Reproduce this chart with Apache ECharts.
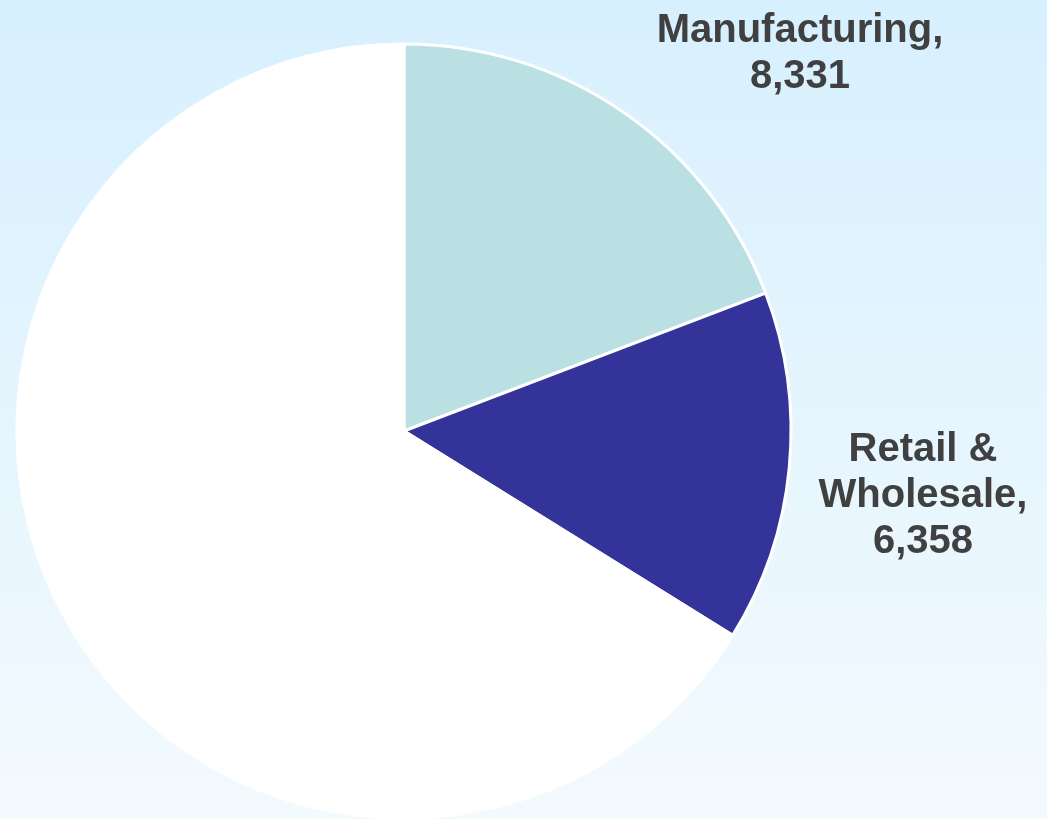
<!DOCTYPE html>
<html>
<head>
<meta charset="utf-8">
<script src="https://cdn.jsdelivr.net/npm/echarts@6/dist/echarts.min.js"></script>
<style>
html,body{margin:0;padding:0;}
#chart{width:1047px;height:819px;}
</style>
</head>
<body>
<div id="chart"></div>
<script>
// Data
var categories = ['Manufacturing', 'Retail & Wholesale', 'Other'];
var values = [8331, 6358, 28700];
var labelTexts = ['Manufacturing,\n8,331', 'Retail &\nWholesale,\n6,358', ''];
var colors = ['#BAE0E3', '#333399', '#FFFFFF'];

var chart = echarts.init(document.getElementById('chart'));
var labelPos = [[800, 54], [923, 496]];

chart.setOption({
  backgroundColor: {
    type: 'linear', x: 0, y: 0, x2: 0, y2: 1,
    colorStops: [{offset: 0, color: '#D7F0FE'}, {offset: 1, color: '#F3FAFE'}]
  },
  animation: false,
  series: [{
    type: 'pie',
    center: [404, 431],
    radius: 387,
    startAngle: 90,
    clockwise: true,
    avoidLabelOverlap: false,
    itemStyle: {borderColor: '#FFFFFF', borderWidth: 3},
    label: {
      show: true,
      position: 'outside',
      formatter: function (p) { return labelTexts[p.dataIndex]; },
      color: '#404040',
      fontFamily: 'Liberation Sans, Arial, sans-serif',
      fontWeight: 'bold',
      fontSize: 40,
      lineHeight: 46,
      align: 'center'
    },
    labelLine: {show: false},
    labelLayout: function (params) {
      var p = labelPos[params.dataIndex];
      if (!p) return {};
      return {x: p[0], y: p[1], align: 'center', verticalAlign: 'middle'};
    },
    emphasis: {disabled: true},
    data: categories.map(function (c, i) {
      return {
        name: c,
        value: values[i],
        itemStyle: {color: colors[i]},
        label: {show: labelTexts[i] !== ''}
      };
    })
  }]
});
</script>
</body>
</html>
